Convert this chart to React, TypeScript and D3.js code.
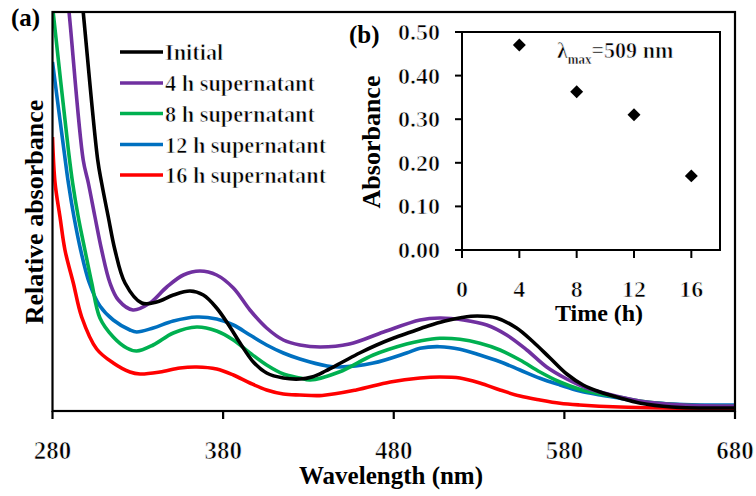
import React from "react";
import * as d3 from "d3";

// ---------- Data ----------
const wavelengthTicks = [280, 380, 480, 580, 680];
const seriesNames = ["Initial", "4 h supernatant", "8 h supernatant", "12 h supernatant", "16 h supernatant"];
const seriesColors = ["#000000", "#7030A0", "#00B050", "#0070C0", "#FF0000"];

// [wavelength (nm), relative absorbance]
const initialSpectrum: [number, number][] = [
  [294, 4.7], [298, 3.99], [306.5, 2.51], [308.8, 2.28], [312.7, 1.94], [316.6, 1.61], [322.5, 1.28],
  [332.3, 1.08], [341, 1.09], [350.8, 1.16], [360.6, 1.2], [368.4, 1.16], [376.2, 1.03], [384, 0.84],
  [389.9, 0.68], [397.7, 0.49], [405.5, 0.38], [415.3, 0.33], [425, 0.32], [432, 0.34], [440, 0.4],
  [450, 0.49], [460, 0.58], [470, 0.66], [480, 0.73], [490, 0.79], [500, 0.85], [510, 0.9],
  [520, 0.935], [529, 0.95], [540.3, 0.93], [552, 0.83], [561.8, 0.69], [571.6, 0.53], [581.4, 0.37],
  [591, 0.26], [601, 0.19], [612.6, 0.13], [624, 0.08], [643, 0.04], [680, 0.03],
];
const h4Spectrum: [number, number][] = [
  [286, 4.6], [289.7, 3.99], [298, 2.51], [301, 2.28], [304.9, 1.94], [308.8, 1.61], [313.7, 1.28],
  [318.6, 1.11], [327.2, 1.01], [337.1, 1.08], [347, 1.24], [356.7, 1.36], [366.4, 1.4], [376.2, 1.36],
  [386, 1.23], [395.7, 1.01], [405.5, 0.83], [415.3, 0.71], [425, 0.66], [437, 0.64], [454, 0.67],
  [474, 0.79], [495.4, 0.91], [507, 0.93], [520.8, 0.91], [534.5, 0.86], [546.2, 0.76], [558, 0.61],
  [569.6, 0.44], [581.4, 0.32], [593, 0.23], [612.6, 0.14], [624, 0.1], [650, 0.06], [680, 0.05],
];
const h8Spectrum: [number, number][] = [
  [280, 4.05], [289.3, 2.61], [291.8, 2.28], [295.1, 1.94], [299, 1.61], [303, 1.28], [307.8, 0.93],
  [315.6, 0.74], [323.5, 0.63], [329.3, 0.6], [339, 0.66], [350.8, 0.78], [364.5, 0.84], [376.2, 0.8],
  [386, 0.71], [395.7, 0.58], [405.5, 0.46], [415.3, 0.37], [425, 0.33], [431, 0.31], [448, 0.39],
  [468, 0.56], [487.5, 0.67], [495.4, 0.7], [507, 0.727], [518.8, 0.717], [530.5, 0.677], [542.3, 0.61],
  [554, 0.51], [565.7, 0.39], [577.4, 0.29], [589, 0.217], [601, 0.17], [612.6, 0.137], [624, 0.1],
  [650, 0.06], [680, 0.05],
];
const h12Spectrum: [number, number][] = [
  [280, 3.49], [286.7, 2.61], [289.3, 2.28], [292.6, 1.94], [296.5, 1.61], [301.6, 1.28], [307.8, 1.05],
  [315.6, 0.91], [325.4, 0.81], [329.3, 0.79], [339, 0.83], [350.8, 0.9], [364.5, 0.94], [376.2, 0.92],
  [386, 0.86], [395.7, 0.76], [405.5, 0.66], [415.3, 0.58], [425, 0.52], [441, 0.45], [448, 0.44],
  [468, 0.48], [487.5, 0.58], [495.4, 0.627], [507, 0.643], [518.8, 0.617], [530.5, 0.56], [542.3, 0.493],
  [554, 0.41], [565.7, 0.327], [577.4, 0.26], [589, 0.2], [601, 0.16], [612.6, 0.127], [624, 0.095],
  [650, 0.065], [680, 0.06],
];
const h16Spectrum: [number, number][] = [
  [280, 2.74], [281.5, 2.28], [284.4, 1.94], [287.3, 1.61], [292.2, 1.28], [297.1, 0.94], [305.9, 0.62],
  [315.6, 0.48], [325.4, 0.39], [331.3, 0.37], [343, 0.39], [354.7, 0.43], [364.5, 0.44], [376.2, 0.42],
  [386, 0.36], [395.7, 0.28], [405.5, 0.21], [415.3, 0.17], [425, 0.16], [438, 0.155], [458, 0.21],
  [478, 0.29], [495.4, 0.33], [507, 0.34], [518.8, 0.33], [530.5, 0.28], [542.3, 0.21], [554, 0.15],
  [565.7, 0.11], [577.4, 0.077], [589, 0.06], [612.6, 0.04], [680, 0.02],
];
const spectra = [initialSpectrum, h4Spectrum, h8Spectrum, h12Spectrum, h16Spectrum];

// Inset (b)
const timeHours = [4, 8, 12, 16];
const absorbance509 = [0.47, 0.363, 0.31, 0.17];
const insetXTicks = [0, 4, 8, 12, 16];
const insetYTicks = [0, 0.1, 0.2, 0.3, 0.4, 0.5];

const FONT = '"Liberation Serif", "Times New Roman", serif';

// Only the bold serif face is available; thin it slightly with a white outline to mimic the regular weight.
const regular = {
  fontFamily: FONT,
  fontWeight: 700,
  stroke: "#fff",
  strokeWidth: 0.7,
  paintOrder: "fill stroke",
} as React.CSSProperties;
const bold = { fontFamily: FONT, fontWeight: 700 } as React.CSSProperties;

export default function App() {
  // main plot geometry
  const mL = 52.5, mR = 735, mT = 12, mB = 411;
  const x = d3.scaleLinear().domain([280, 680]).range([mL, mR]);
  const y = d3.scaleLinear().domain([0, 3.99]).range([mB, mT]);
  const line = d3
    .line<[number, number]>()
    .x((d) => x(d[0]))
    .y((d) => y(d[1]))
    .curve(d3.curveCatmullRom.alpha(0.5));

  // inset geometry
  const iL = 462, iR = 720, iT = 32, iB = 250;
  const ix = d3.scaleLinear().domain([0, 18]).range([iL, iR]);
  const iy = d3.scaleLinear().domain([0, 0.5]).range([iB, iT]);
  const diamond = d3.symbol().type(d3.symbolSquare).size(84)();

  const legendY = [52, 83, 113.5, 144.5, 175];

  return (
    <svg width={756} height={496} style={{ position: "absolute", left: 0, top: 0, background: "#fff" }}>
      <defs>
        <clipPath id="mainClip">
          <rect x={mL} y={mT} width={mR - mL} height={mB - mT} />
        </clipPath>
      </defs>
      <rect x={0} y={0} width={756} height={496} fill="#fff" />

      {/* spectra */}
      <g clipPath="url(#mainClip)">
        {spectra
          .map((s, i) => ({ s, i }))
          .reverse()
          .map(({ s, i }) => (
            <path key={i} d={line(s) || ""} fill="none" stroke={seriesColors[i]} strokeWidth={3.6} />
          ))}
      </g>

      {/* main frame */}
      <rect x={mL} y={mT} width={mR - mL} height={mB - mT} fill="none" stroke="#000" strokeWidth={2.2} />
      {wavelengthTicks.map((t) => (
        <g key={t}>
          <line x1={x(t)} x2={x(t)} y1={mB} y2={mB + 8} stroke="#000" strokeWidth={2.2} />
          <text x={x(t)} y={459} textAnchor="middle" fontSize={25} style={regular}>
            {t}
          </text>
        </g>
      ))}
      <text x={391} y={484} textAnchor="middle" fontSize={25} style={bold}>
        Wavelength (nm)
      </text>
      <text transform={`translate(43,212) rotate(-90)`} textAnchor="middle" fontSize={26} style={bold}>
        Relative absorbance
      </text>
      <text x={11} y={26} fontSize={25} style={bold}>
        (a)
      </text>

      {/* legend */}
      {seriesNames.map((n, i) => (
        <g key={n}>
          <line x1={120} x2={163} y1={legendY[i]} y2={legendY[i]} stroke={seriesColors[i]} strokeWidth={3.6} />
          <text transform={`translate(165,${legendY[i] + 8}) scale(0.93,1)`} fontSize={24} style={regular}>
            {n}
          </text>
        </g>
      ))}

      {/* inset */}
      <text x={349} y={43} fontSize={25} style={bold}>
        (b)
      </text>
      <rect x={iL} y={iT} width={iR - iL} height={iB - iT} fill="#fff" stroke="#000" strokeWidth={2} />
      {insetYTicks.map((t) => (
        <g key={t}>
          <line x1={iL - 7} x2={iL} y1={iy(t)} y2={iy(t)} stroke="#000" strokeWidth={2} />
          <text x={440} y={iy(t) + 8} textAnchor="end" fontSize={24} style={regular}>
            {t.toFixed(2)}
          </text>
        </g>
      ))}
      {insetXTicks.map((t) => (
        <g key={t}>
          <line x1={ix(t)} x2={ix(t)} y1={iB} y2={iB + 8} stroke="#000" strokeWidth={2} />
          <text x={ix(t)} y={297} textAnchor="middle" fontSize={24} style={regular}>
            {t}
          </text>
        </g>
      ))}
      <text x={599} y={321} textAnchor="middle" fontSize={24} style={bold}>
        Time (h)
      </text>
      <text transform={`translate(380,142) rotate(-90)`} textAnchor="middle" fontSize={26} style={bold}>
        Absorbance
      </text>
      {timeHours.map((t, i) => (
        <path key={t} d={diamond || ""} transform={`translate(${ix(t)},${iy(absorbance509[i])}) rotate(45)`} fill="#000" />
      ))}
      <text transform="translate(557,58) scale(0.92,1)" fontSize={24} style={regular}>
        λ
        <tspan fontSize={14} dy={6} style={{ strokeWidth: 0.4 }}>
          max
        </tspan>
        <tspan dy={-6}>=509 nm</tspan>
      </text>
    </svg>
  );
}
